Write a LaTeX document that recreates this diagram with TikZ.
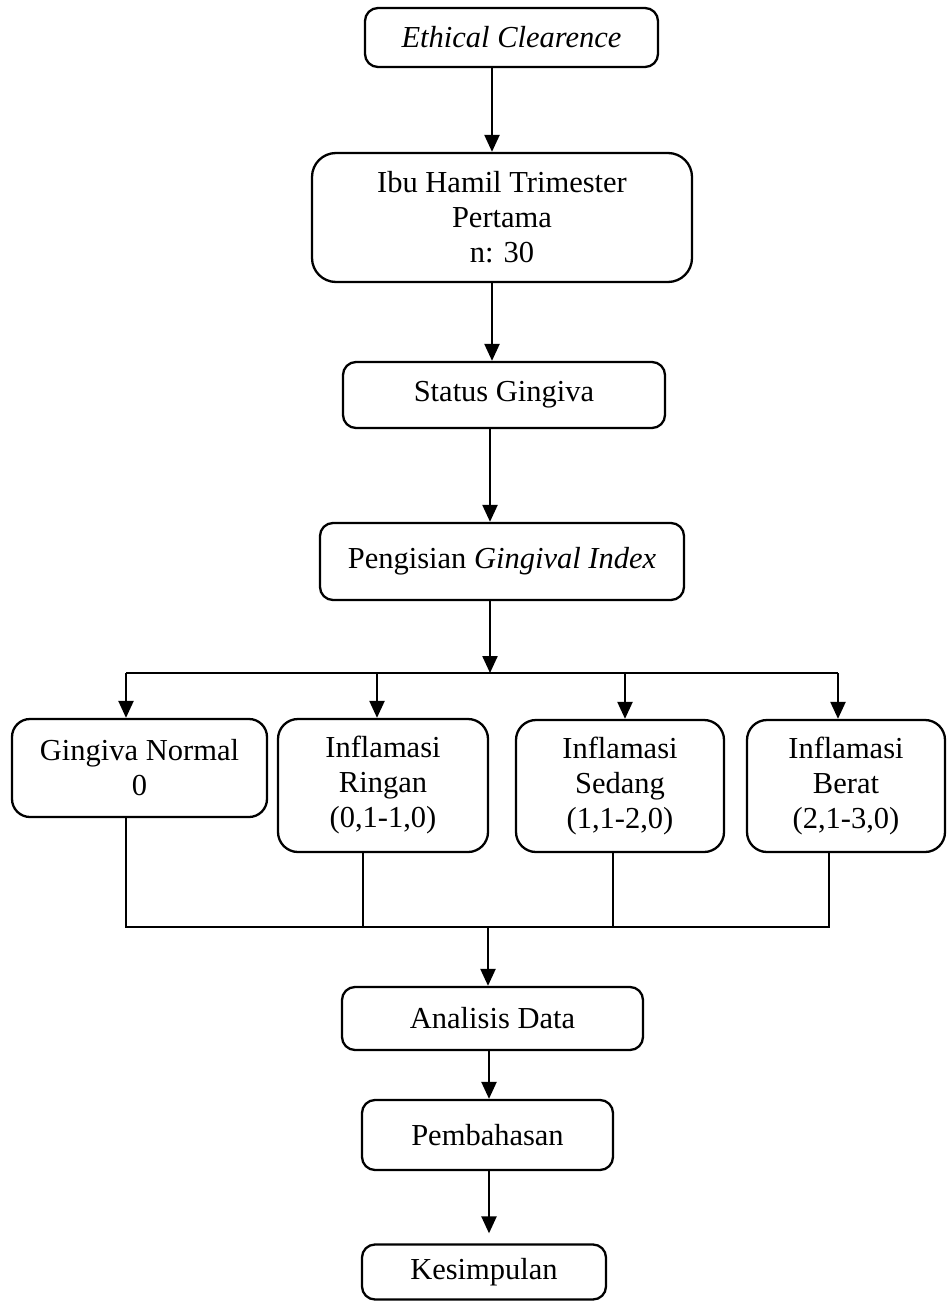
\documentclass[tikz,border=0pt]{standalone}
\usepackage{fontspec}
\setmainfont{Liberation Serif}
\usetikzlibrary{arrows.meta}
\begin{document}
\begin{tikzpicture}[x=1pt,y=-1pt,
  box/.style={draw, line width=2.3pt, rounded corners=13pt, align=center, inner sep=0pt,
    font=\fontsize{30.5}{35}\selectfont},
  arr/.style={line width=2.3pt, -{Triangle[width=15pt,length=17pt]}},
  ln/.style={line width=2.3pt}]
\useasboundingbox[fill=white] (0,0) rectangle (947,1305);
% main column
\node[box, minimum width=293pt, minimum height=59pt] (eth) at (511.5,37.5) {\itshape Ethical Clearence};
\node[box, rounded corners=24pt, minimum width=380pt, minimum height=129pt] (ibu) at (502,217.5) {Ibu Hamil Trimester\\Pertama\\n: 30};
\node[box, minimum width=322pt, minimum height=66pt] (stat) at (504,395) {Status Gingiva};
\node[box, minimum width=364pt, minimum height=77pt] (peng) at (502,561.5) {Pengisian \textit{Gingival Index}};
% categories
\node[box, rounded corners=18pt, minimum width=255pt, minimum height=98pt] (gn) at (139.5,768) {Gingiva Normal\\0};
\node[box, rounded corners=20pt, minimum width=210pt, minimum height=133pt] (ir) at (383,785.5) {Inflamasi\\Ringan\\(0,1-1,0)};
\node[box, rounded corners=20pt, minimum width=208pt, minimum height=132pt] (is) at (620,786) {Inflamasi\\Sedang\\(1,1-2,0)};
\node[box, rounded corners=20pt, minimum width=198pt, minimum height=132pt] (ib) at (846,786) {Inflamasi\\Berat\\(2,1-3,0)};
% lower column
\node[box, minimum width=301pt, minimum height=63pt] (ad) at (492.5,1018.5) {Analisis Data};
\node[box, minimum width=251pt, minimum height=70pt] (pb) at (487.5,1135) {Pembahasan};
\node[box, minimum width=244pt, minimum height=55pt] (ks) at (484,1272) {Kesimpulan};
% helper coordinates
\coordinate (cA) at (492,0);
\coordinate (cB) at (490,0);
\coordinate (cC) at (489,0);
\coordinate (jt) at (490,673);
\coordinate (jb) at (488,927);
\coordinate (da) at (126,0);
\coordinate (db) at (377,0);
\coordinate (dc) at (625,0);
\coordinate (dd) at (838,0);
\coordinate (ua) at (126,0);
\coordinate (ub) at (363,0);
\coordinate (uc) at (613,0);
\coordinate (ud) at (829,0);
% connectors
\draw[arr] (eth.south -| cA) -- (ibu.north -| cA);
\draw[arr] (ibu.south -| cA) -- (stat.north -| cA);
\draw[arr] (stat.south -| cB) -- (peng.north -| cB);
\draw[arr] (peng.south -| jt) -- (jt);
\draw[ln] (jt -| da) -- (jt -| dd);
\draw[arr] (jt -| da) -- (gn.north -| da);
\draw[arr] (jt -| db) -- (ir.north -| db);
\draw[arr] (jt -| dc) -- (is.north -| dc);
\draw[arr] (jt -| dd) -- (ib.north -| dd);
\draw[ln] (gn.south -| ua) -- (jb -| ua) -- (jb -| ud) -- (ib.south -| ud);
\draw[ln] (ir.south -| ub) -- (jb -| ub);
\draw[ln] (is.south -| uc) -- (jb -| uc);
\draw[arr] (jb) -- (ad.north -| jb);
\draw[arr] (ad.south -| cC) -- (pb.north -| cC);
\draw[arr, shorten >=10pt] (pb.south -| cC) -- (ks.north -| cC);
\end{tikzpicture}
\end{document}
